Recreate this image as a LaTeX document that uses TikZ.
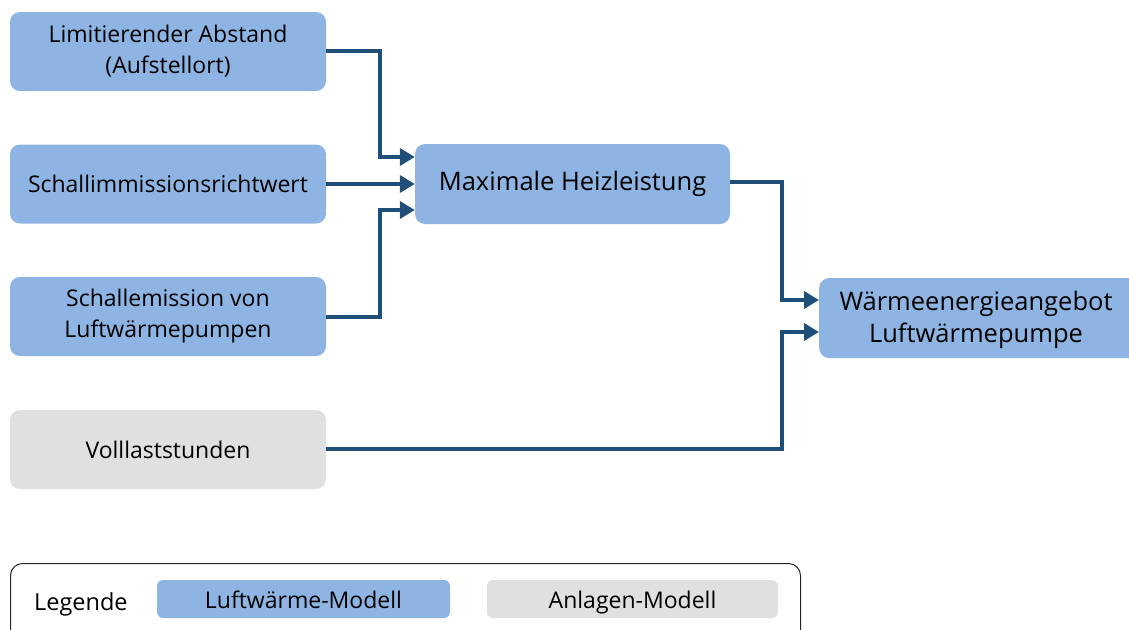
\documentclass[tikz,border=0pt]{standalone}
\usepackage{fontspec}
\setmainfont{Open Sans}
\usetikzlibrary{arrows.meta,positioning}
\definecolor{boxblue}{HTML}{8DB4E2}
\definecolor{boxgray}{HTML}{E0E0E0}
\definecolor{arrowblue}{HTML}{1F4E79}
\begin{document}
\begin{tikzpicture}[x=1pt,y=-1pt,
  bluebox/.style={fill=boxblue,draw=none,rounded corners=10pt,align=center,font=\fontsize{23}{31}\selectfont,inner sep=0pt},
  graybox/.style={bluebox,fill=boxgray},
  conn/.style={draw=arrowblue,line width=4.5pt,-{Triangle[length=15pt,width=17pt]}},
  legbox/.style={rounded corners=6pt,draw=none,font=\fontsize{23}{24}\selectfont,inner sep=0pt,text height=23pt,text depth=5pt}]
\clip (0,0) rectangle (1129,629);
\useasboundingbox (0,0) rectangle (1129,629);
% main boxes
\node[bluebox,minimum width=316pt,minimum height=79pt] (b1) at (168,51.5) {Limitierender Abstand\\(Aufstellort)};
\node[bluebox,minimum width=316pt,minimum height=79pt] (b2) at (168,184) {Schallimmissionsrichtwert};
\node[bluebox,minimum width=316pt,minimum height=79pt] (b3) at (168,316.5) {Schallemission von\\Luftwärmepumpen};
\node[graybox,minimum width=316pt,minimum height=79pt] (b4) at (168,449.5) {Volllaststunden};
\node[bluebox,minimum width=315pt,minimum height=80pt,font=\fontsize{25.5}{29}\selectfont] (b5) at (572.5,184) {Maximale Heizleistung};
\node[bluebox,minimum width=320pt,minimum height=80pt,anchor=west] (b6) at (819,318) {};
\node[font=\fontsize{25.5}{32}\selectfont,align=center] (b6t) at (976,320) {Wärmeenergieangebot\\Luftwärmepumpe};
% helper coordinates
\coordinate (j1) at (380,51);
\coordinate (j3) at (380,317);
\coordinate (j5) at (782,182);
\coordinate (j4) at (782,449);
\draw[conn] (b1.east |- j1) -| (380,157) -- (b5.west |- 0,157);
\draw[conn] (b2.east) -- (b5.west |- b2.east);
\draw[conn] (b3.east |- j3) -| (380,210) -- (b5.west |- 0,210);
\draw[conn] (b5.east |- j5) -| (782,300) -- (b6.west |- 0,300);
\draw[conn] (b4.east |- j4) -| (782,332) -- (b6.west |- 0,332);
% legend
\node[draw=black!85,line width=1pt,rounded corners=12pt,minimum width=790pt,minimum height=80pt,anchor=north west,inner sep=0pt] (leg) at (10,563) {};
\node[anchor=west,font=\fontsize{23.5}{24}\selectfont,text height=23pt,text depth=5pt,inner sep=0pt] (legt) at (34,601) {Legende};
\node[legbox,fill=boxblue,minimum width=293pt,minimum height=38pt] (l1) at (303.5,599) {Luftwärme-Modell};
\node[legbox,fill=boxgray,minimum width=291pt,minimum height=38pt] (l2) at (632.5,599) {Anlagen-Modell};
\end{tikzpicture}
\end{document}
